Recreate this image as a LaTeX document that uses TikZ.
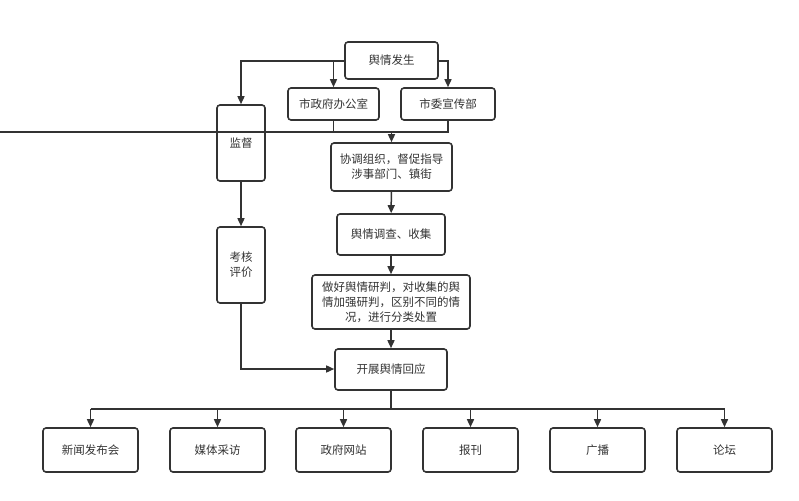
\documentclass[tikz,border=0pt]{standalone}
\usepackage{fontspec}
\setmainfont{Noto Sans CJK SC}
\usetikzlibrary{arrows.meta}
\definecolor{ln}{HTML}{333333}
\begin{document}
\begin{tikzpicture}[x=1pt,y=-1pt,
  bx/.style={draw=ln,line width=1.6pt,rounded corners=3pt,fill=white,align=center,inner sep=0pt,font=\fontsize{11.5}{15}\selectfont,text=ln},
  ar/.style={draw=ln,line width=1.5pt,-{Triangle[length=8pt,width=7pt]}},
  ln/.style={draw=ln,line width=1.5pt}]
\useasboundingbox (0,0) rectangle (799,500);
\def\B#1#2#3#4#5#6{\node[bx,minimum width=#4-#2,minimum height=#5-#3] (#1) at ({(#2+#4)/2},{(#3+#5)/2}) {#6};}
\B{a}{345}{42}{438}{79}{舆情发生}
\B{b}{288}{88}{379}{120}{市政府办公室}
\B{c}{401}{88}{495}{120}{市委宣传部}
\B{d}{331}{143}{452}{191}{协调组织，督促指导\\涉事部门、镇街}
\B{e}{337}{214}{445}{255}{舆情调查、收集}
\B{f}{312}{275}{470}{329}{做好舆情研判，对收集的舆\\情加强研判，区别不同的情\\况，进行分类处置}
\B{g}{335}{349}{447}{390}{开展舆情回应}
\B{m}{217}{105}{265}{181}{监督}
\B{k}{217}{227}{265}{303}{考核\\评价}
\B{n1}{43}{428}{138}{472}{新闻发布会}
\B{n2}{170}{428}{265}{472}{媒体采访}
\B{n3}{296}{428}{391}{472}{政府网站}
\B{n4}{423}{428}{518}{472}{报刊}
\B{n5}{550}{428}{645}{472}{广播}
\B{n6}{677}{428}{772}{472}{论坛}
\draw[ar] (a.west|-0,61) -| (m.north);
\draw[ar] (a.west|-0,61) -| (b.north);
\draw[ar] (a.east|-0,61) -| (c.north);
\draw[ln] (b.south) |- (0,132) coordinate (j1) -| (c.south);
\draw[ar] (d.north|-j1) -- (d.north);
\draw[ar] (d) -- (e);
\draw[ar] (e) -- (f);
\draw[ar] (f) -- (g);
\draw[ar] (m) -- (k);
\draw[ar] (k.south) |- (g.west|-0,369) coordinate (j2);
\draw[ln] (g.south) -- (g.south|-0,409) coordinate (bus);
\draw[ln] (n1.north|-bus) -- (n6.north|-bus);
\foreach \n in {n1,n2,n3,n4,n5,n6} \draw[ar] (\n.north|-bus) -- (\n.north);
\end{tikzpicture}
\end{document}
